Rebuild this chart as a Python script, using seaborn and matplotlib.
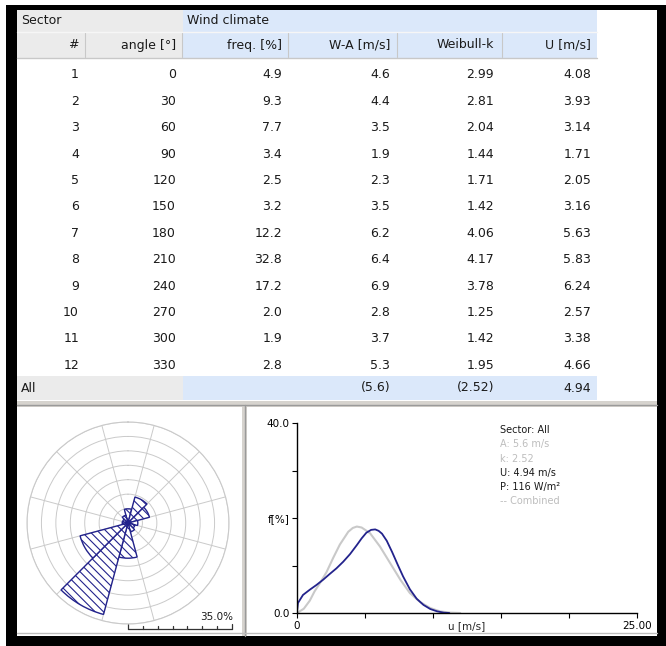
import numpy as np
import matplotlib
matplotlib.use("Agg")
import matplotlib.pyplot as plt
from matplotlib.patches import Rectangle
import seaborn as sns


# DATA

sector_no = [1, 2, 3, 4, 5, 6, 7, 8, 9, 10, 11, 12]
angle_deg = [0, 30, 60, 90, 120, 150, 180, 210, 240, 270, 300, 330]
freq_pct = [4.9, 9.3, 7.7, 3.4, 2.5, 3.2, 12.2, 32.8, 17.2, 2.0, 1.9, 2.8]
weibull_a = [4.6, 4.4, 3.5, 1.9, 2.3, 3.5, 6.2, 6.4, 6.9, 2.8, 3.7, 5.3]
weibull_k = [2.99, 2.81, 2.04, 1.44, 1.71, 1.42, 4.06, 4.17, 3.78, 1.25, 1.42, 1.95]
mean_u = [4.08, 3.93, 3.14, 1.71, 2.05, 3.16, 5.63, 5.83, 6.24, 2.57, 3.38, 4.66]
all_row = ["(5.6)", "(2.52)", "4.94"]

col_headers = ["#", "angle [°]", "freq. [%]", "W-A [m/s]", "Weibull-k", "U [m/s]"]

# combined (sector sum) distribution
comb_u = [0.0, 0.07, 0.44, 0.94, 1.43, 1.92, 2.4, 2.9, 3.4, 3.9, 4.4, 4.75, 5.1,
          5.45, 5.75, 6.0, 6.25, 6.6, 7.0, 7.4, 7.8, 8.3, 8.8, 9.3, 9.8, 10.3, 10.8, 11.2]
comb_f = [0.3, 2.1, 3.8, 4.9, 5.9, 7.0, 8.2, 9.4, 10.8, 12.4, 14.3, 15.7, 16.9,
          17.5, 17.6, 17.3, 16.7, 15.2, 12.8, 10.2, 7.7, 5.0, 3.0, 1.7, 0.84, 0.35, 0.07, 0.0]

# fitted Weibull (A 5.6, k 2.52)
fit_u = [0.0, 0.5, 0.94, 1.3, 1.67, 2.17, 2.66, 3.15, 3.77, 4.1, 4.4, 4.75, 5.37, 6.1,
         6.85, 7.6, 8.3, 9.06, 9.8, 10.5, 11.3, 12.0]
fit_f = [0.0, 0.9, 2.6, 4.6, 6.2, 8.6, 11.6, 14.4, 17.1, 17.9, 18.2, 18.0, 16.8, 14.0,
         10.5, 7.0, 4.2, 2.3, 1.05, 0.35, 0.07, 0.0]

info_lines = ["Sector: All", "A: 5.6 m/s", "k: 2.52", "U: 4.94 m/s", "P: 116 W/m²", "-- Combined"]
info_dark = [True, False, False, True, True, False]


# STYLE

sns.set_style("white")
plt.rcParams["font.family"] = ["DejaVu Sans"]
plt.rcParams["hatch.linewidth"] = 0.8

NAVY = "#23238c"
GRAY_HDR = "#ebebeb"
BLUE_HDR = "#dbe8fa"
TXT = "#1a1a1a"
GRID = "#cacaca"

fig = plt.figure(figsize=(6.66, 6.46), dpi=100)

# background canvas in pixel coordinates
bg = fig.add_axes([0, 0, 1, 1])
bg.set_xlim(0, 666)
bg.set_ylim(646, 0)
bg.axis("off")


def box(x0, y0, x1, y1, color, z=0):
    bg.add_patch(Rectangle((x0, y0), x1 - x0, y1 - y0, facecolor=color,
                           edgecolor="none", zorder=z))


# black frame
box(6, 5, 666, 646, "black")
box(17, 10, 657, 636, "white", 1)

# header rows
box(17, 10, 183, 58, GRAY_HDR, 2)
box(183, 10, 597, 58, BLUE_HDR, 2)
bg.plot([17, 597], [32, 32], color="#f6f6f6", lw=1, zorder=3)
bg.plot([17, 597], [58, 58], color="#c8c8c8", lw=1, zorder=3)
for xs in [85, 182, 288, 397, 502]:
    bg.plot([xs, xs], [33, 57], color="#c8c8c8", lw=0.8, zorder=3)

bg.text(21, 21, "Sector", fontsize=9, color=TXT, va="center", ha="left", zorder=4)
bg.text(187, 21, "Wind climate", fontsize=9, color=TXT, va="center", ha="left", zorder=4)

col_right = [79, 176, 282, 390, 494, 591]
for xr, lab in zip(col_right, col_headers):
    bg.text(xr, 45, lab, fontsize=9, color=TXT, va="center", ha="right", zorder=4)

# sector rows
for i in range(len(sector_no)):
    y = 75 + i * 26.4
    vals = [str(sector_no[i]), str(angle_deg[i]), f"{freq_pct[i]:.1f}",
            f"{weibull_a[i]:.1f}", f"{weibull_k[i]:.2f}", f"{mean_u[i]:.2f}"]
    for xr, v in zip(col_right, vals):
        bg.text(xr, y, v, fontsize=9, color=TXT, va="center", ha="right", zorder=4)

# "All" row
box(17, 376, 183, 400, GRAY_HDR, 2)
box(183, 376, 597, 400, BLUE_HDR, 2)
bg.text(21, 388, "All", fontsize=9, color=TXT, va="center", ha="left", zorder=4)
for xr, v in zip(col_right[3:], all_row):
    bg.text(xr, 388, v, fontsize=9, color=TXT, va="center", ha="right", zorder=4)

# panel separators
box(17, 401, 657, 407, "#d6d3ce", 2)
bg.plot([17, 657], [405, 405], color="#9a9a9a", lw=1, zorder=3)
box(242, 405, 247, 636, "#d6d3ce", 2)
bg.plot([245, 245], [405, 636], color="#9a9a9a", lw=1, zorder=3)
bg.plot([17, 657], [633, 633], color="#bdbdbd", lw=1, zorder=3)

# scale bar under the rose
bar_x = np.linspace(128, 232, 8)
bg.plot([128, 232], [629, 629], color="#333333", lw=0.9, zorder=4)
for j, xt in enumerate(bar_x):
    h = 5 if j in (0, 7) else 3.5
    bg.plot([xt, xt], [629, 629 - h], color="#333333", lw=0.9, zorder=4)
bg.text(233, 617, "35.0%", fontsize=7.5, color=TXT, ha="right", va="center", zorder=4)


# WIND ROSE

cx, cy, rad = 128, 523, 101
rose = fig.add_axes([(cx - rad) / 666, (646 - cy - rad) / 646, 2 * rad / 666, 2 * rad / 646],
                    projection="polar")
rose.set_theta_zero_location("N")
rose.set_theta_direction(-1)
rose.set_ylim(0, 35)
rose.set_yticks(np.arange(5, 36, 5))
rose.set_yticklabels([])
rose.set_xticks(np.radians(np.arange(15, 360, 30)))
rose.set_xticklabels([])
rose.grid(True, color=GRID, lw=0.7)
rose.spines["polar"].set_color(GRID)
rose.spines["polar"].set_linewidth(0.8)
rose.tick_params(length=0)
rose.set_facecolor("none")
rose.bar(np.radians(angle_deg), freq_pct, width=np.radians(30), bottom=0,
         facecolor="white", edgecolor=NAVY, linewidth=1.0, hatch="\\" * 4, zorder=3)


# FREQUENCY DISTRIBUTION

ax = fig.add_axes([297 / 666, (646 - 613) / 646, 340 / 666, 190 / 646])
sns.lineplot(x=fit_u, y=fit_f, ax=ax, color="#c9c9c9", linewidth=1.5)
sns.lineplot(x=comb_u, y=comb_f, ax=ax, color=NAVY, linewidth=1.3)
ax.set_xlim(0, 25)
ax.set_ylim(0, 40)
ax.set_facecolor("none")
for s in ["top", "right"]:
    ax.spines[s].set_visible(False)
for s in ["left", "bottom"]:
    ax.spines[s].set_color("black")
    ax.spines[s].set_linewidth(1)
ax.set_xticks([0, 5, 10, 15, 20, 25])
ax.set_xticklabels(["0", "", "", "", "", "25.00"])
ax.set_xticks([12.5], ["u [m/s]"], minor=True)
ax.set_yticks([0, 10, 20, 30, 40])
ax.set_yticklabels(["0.0", "", "f[%]", "", "40.0"])
ax.tick_params(which="major", direction="out", length=3.5, width=0.8,
               labelsize=7.5, colors="black", pad=2, bottom=True, left=True)
ax.tick_params(which="minor", length=0, labelsize=7.5, pad=5.5)
ax.set_xlabel("")
ax.set_ylabel("")

for j, (line, dark) in enumerate(zip(info_lines, info_dark)):
    bg.text(500, 430 + j * 14.3, line, fontsize=7, color=TXT if dark else "#bdbdbd",
            ha="left", va="center", zorder=4)

fig.savefig("out.png", dpi=100)
